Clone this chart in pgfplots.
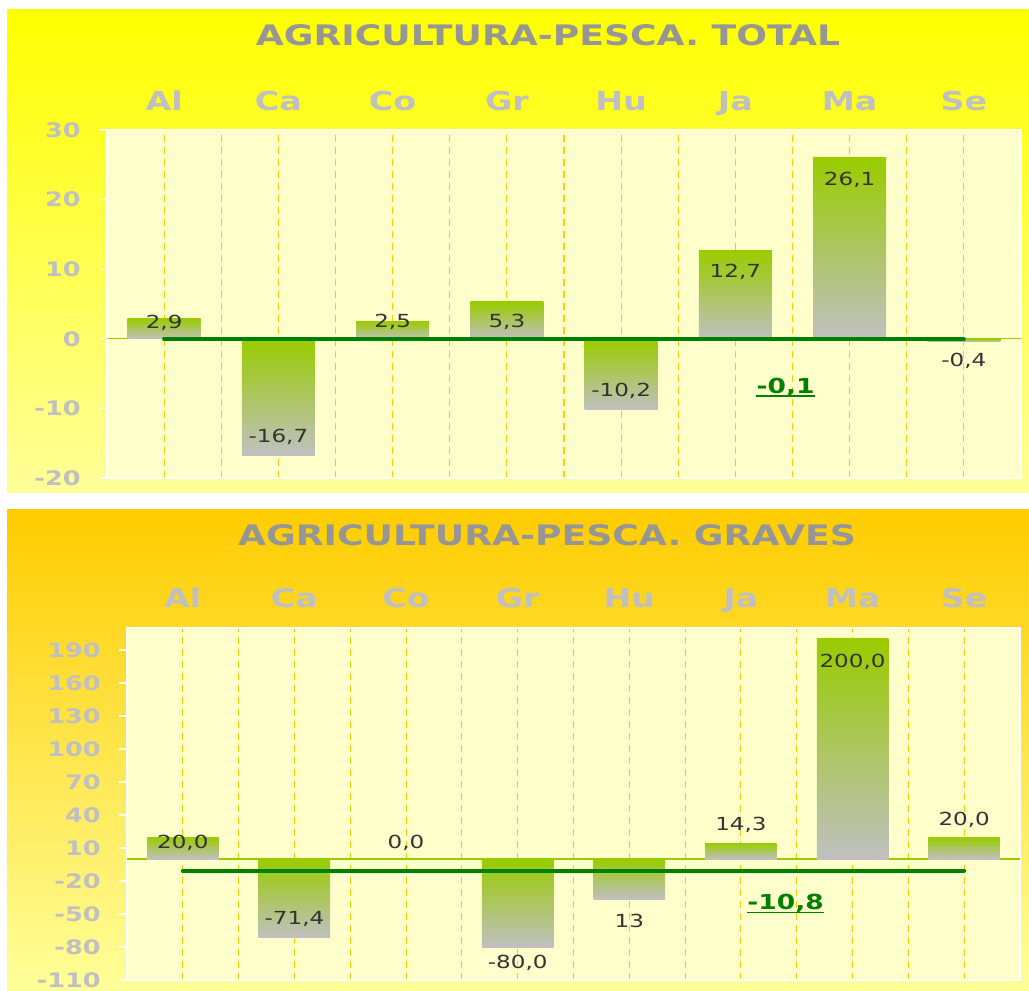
\documentclass[border=0pt]{standalone}
\usepackage{fontspec}
\setmainfont{DejaVu Sans}[FakeStretch=1.28]
\usepackage{pgfplots}
\pgfplotsset{compat=1.18}

\definecolor{bgyellow}{HTML}{FFFF00}
\definecolor{bgorange}{HTML}{FFCC00}
\definecolor{bgpale}{HTML}{FFFF99}
\definecolor{plotbg}{HTML}{FFFFCC}
\definecolor{gridgold}{HTML}{FFCC00}
\definecolor{titlegray}{HTML}{969696}
\definecolor{ticklgray}{HTML}{C0C0C0}
\definecolor{bargreen}{HTML}{99CC00}
\definecolor{bargray}{HTML}{C0C0C0}
\definecolor{avggreen}{HTML}{008000}
\definecolor{lblgray}{HTML}{333333}

\pgfplotsset{
  panel/.style={
    scale only axis,
    xmin=-0.5, xmax=7.5,
    xtick={0,...,7},
    xticklabels={Al,Ca,Co,Gr,Hu,Ja,Ma,Se},
    xticklabel pos=upper,
    xtick style={draw=none},
    minor xtick={0.5,1.5,...,6.5},
    minor tick length=0pt,
    xmajorgrids, xminorgrids,
    major grid style={gridgold, dash pattern=on 5pt off 4pt, line width=0.8pt},
    minor grid style={gridgold, dash pattern=on 5pt off 4pt, line width=0.8pt},
    xticklabel style={anchor=base, yshift=9pt, font=\fontsize{19.5}{22}\selectfont\bfseries, text=ticklgray},
    ytick pos=left,
    tick align=outside,
    major tick length=6pt,
    ytick style={white, line width=1pt},
    yticklabel style={anchor=east, inner sep=0pt, xshift=-13.5pt, font=\fontsize{15}{18}\selectfont\bfseries, text=ticklgray},
    /pgf/number format/assume math mode=true,
    axis line style={white, line width=1.4pt},
    axis background/.style={fill=plotbg},
    clip=false,
  },
  bar/.style={ybar, bar width=0.64, bar shift=0pt, draw=none,
    top color=bargreen, middle color=bargreen!40!bargray, bottom color=bargray},
  avg/.style={avggreen, line width=3pt, line cap=round},
}
\tikzset{
  lbl/.style={text=lblgray, font=\fontsize{13.5}{16}\selectfont},
  avglbl/.style={text=avggreen, inner sep=0pt, font=\fontsize{15.5}{18}\selectfont\bfseries},
}

\begin{document}
\begin{tikzpicture}
% page and panel backgrounds
\fill[white] (0,0) rectangle (771.75pt,742.5pt);
\shade[top color=bgyellow, bottom color=bgpale] (5.25pt,372.75pt) rectangle (771.75pt,735pt);
\shade[top color=bgorange, bottom color=bgpale] (5.25pt,0pt) rectangle (771.75pt,360pt);

\node[font=\fontsize{21.2}{24}\selectfont\bfseries, text=titlegray] at (411pt,716.25pt) {AGRICULTURA-PESCA. TOTAL};
\node[font=\fontsize{21.2}{24}\selectfont\bfseries, text=titlegray] at (410.25pt,341.25pt) {AGRICULTURA-PESCA. GRAVES};

% ---------- TOTAL ----------
\begin{axis}[panel,
    at={(80.25pt,384pt)}, anchor=south west,
    width=685.5pt, height=261pt,
    ymin=-20, ymax=30, ytick={-20,-10,...,30}]
\draw[bargreen, line width=0.8pt] (axis cs:-0.5,0) -- (axis cs:7.5,0);
\addplot[bar] coordinates {(0,2.9)};
\addplot[bar] coordinates {(1,-16.7)};
\addplot[bar] coordinates {(2,2.5)};
\addplot[bar] coordinates {(3,5.3)};
\addplot[bar] coordinates {(4,-10.2)};
\addplot[bar] coordinates {(5,12.7)};
\addplot[bar] coordinates {(6,26.1)};
\addplot[bar] coordinates {(7,-0.4)};
\addplot[avg] coordinates {(0,-0.1) (7,-0.1)};
\node[lbl] at (axis cs:0,2.3) {2,9};
\node[lbl] at (axis cs:1,-14.1) {-16,7};
\node[lbl] at (axis cs:2,2.4) {2,5};
\node[lbl] at (axis cs:3,2.4) {5,3};
\node[lbl] at (axis cs:4,-7.5) {-10,2};
\node[lbl] at (axis cs:5,9.6) {12,7};
\node[lbl] at (axis cs:6,22.8) {26,1};
\node[lbl] at (axis cs:7,-3.2) {-0,4};
\node[avglbl] (m1) at (axis cs:5.44,-6.9) {-0,1};
\draw[avggreen, line width=1.4pt] ([yshift=-2.5pt]m1.base west) -- ([yshift=-2.5pt]m1.base east);
\end{axis}

% ---------- GRAVES ----------
\begin{axis}[panel,
    at={(95.25pt,7.5pt)}, anchor=south west,
    width=669.75pt, height=264pt,
    ymin=-110, ymax=210, ytick={-110,-80,...,190}]
\draw[bargreen, line width=0.8pt] (axis cs:-0.5,0) -- (axis cs:7.5,0);
\addplot[bar] coordinates {(0,20.0)};
\addplot[bar] coordinates {(1,-71.4)};
\addplot[bar] coordinates {(3,-80.0)};
\addplot[bar] coordinates {(4,-36.4)};
\addplot[bar] coordinates {(5,14.3)};
\addplot[bar] coordinates {(6,200.0)};
\addplot[bar] coordinates {(7,20.0)};
\addplot[avg] coordinates {(0,-10.8) (7,-10.8)};
\node[lbl] at (axis cs:0,14.5) {20,0};
\node[lbl] at (axis cs:1,-54.5) {-71,4};
\node[lbl] at (axis cs:2,14.5) {0,0};
\node[lbl] at (axis cs:3,-94.5) {-80,0};
\node[lbl] at (axis cs:4,-56.4) {13};
\node[lbl] at (axis cs:5,31) {14,3};
\node[lbl] at (axis cs:6,179) {200,0};
\node[lbl] at (axis cs:7,35.5) {20,0};
\node[avglbl] (m2) at (axis cs:5.40,-40) {-10,8};
\draw[avggreen, line width=1.4pt] ([yshift=-2.5pt]m2.base west) -- ([yshift=-2.5pt]m2.base east);
\end{axis}
\end{tikzpicture}
\end{document}
